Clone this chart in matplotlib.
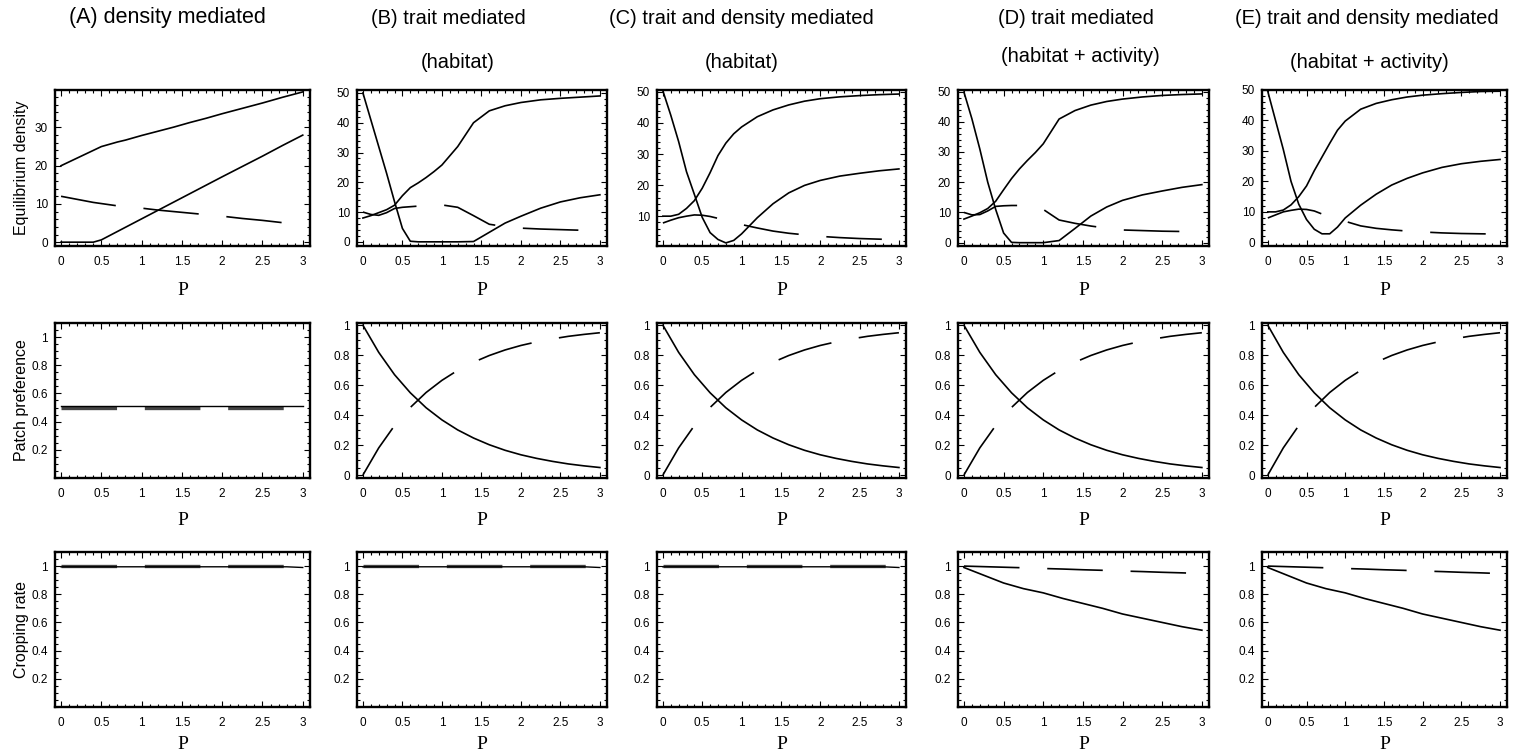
import matplotlib
matplotlib.use("Agg")
import matplotlib.pyplot as plt
from matplotlib.ticker import MultipleLocator

plt.rcParams['font.family'] = ['Liberation Sans', 'DejaVu Sans']
plt.rcParams['lines.scale_dashes'] = False

# ---- data ----
p1 = [0, 0.1, 0.2, 0.3, 0.4, 0.5, 0.6, 0.7, 0.8, 0.9, 1.0, 1.2, 1.4, 1.6, 1.8, 2.0, 2.25, 2.5, 2.75, 3.0]

# top row: equilibrium densities
a_upper = [20, 21, 22, 23, 24, 25, 25.6, 26.2, 26.7, 27.3, 27.9, 29.0, 30.1, 31.3, 32.4, 33.6, 35.0, 36.4, 37.9, 39.3]
a_lower = [0, 0, 0, 0, 0, 0.6, 1.7, 2.8, 3.9, 5.0, 6.1, 8.3, 10.5, 12.7, 14.9, 17.1, 19.8, 22.5, 25.3, 28.0]
a_dash = [12, 11.6, 11.2, 10.8, 10.4, 10.1, 9.8, 9.5, 9.3, 9.1, 8.9, 8.4, 8.0, 7.6, 7.2, 6.8, 6.2, 5.7, 5.1, 4.6]

b_drop = [50, 41, 32, 23, 13.5, 4.5, 0.2, 0, 0, 0, 0, 0, 0.1, 3.2, 6.3, 8.6, 11.3, 13.4, 14.8, 15.8]
b_rise = [8, 8.8, 9.8, 10.8, 12.3, 15.5, 18.2, 19.8, 21.6, 23.6, 25.8, 32.0, 40.0, 44.0, 45.7, 46.8, 47.7, 48.2, 48.6, 49.0]
b_dash = [10, 9.2, 8.9, 9.8, 11.2, 11.6, 11.8, 12.0, 12.2, 12.3, 12.4, 11.6, 8.8, 5.9, 5.1, 4.6, 4.3, 4.1, 3.9, 3.8]

c_drop = [50.3, 42.5, 34, 24.3, 17, 9.6, 4.7, 2.5, 1.4, 2.2, 4.3, 9.5, 14, 17.5, 19.9, 21.5, 22.9, 23.8, 24.6, 25.2]
c_rise = [10, 10, 10.6, 12.5, 15, 19, 24, 29.5, 33.5, 36.5, 38.7, 42, 44.2, 45.8, 47, 47.8, 48.4, 48.8, 49.1, 49.3]
c_dash = [7.8, 8.7, 9.5, 10, 10.4, 10.3, 9.9, 9.3, 8.6, 7.9, 7.3, 6.2, 5.2, 4.5, 4.0, 3.5, 3.1, 2.8, 2.6, 2.4]

d_drop = [49.8, 41, 31, 20, 11, 3.2, 0.1, 0, 0, 0, 0, 0.7, 4.7, 8.8, 11.8, 14, 15.8, 17.1, 18.3, 19.2]
d_rise = [7.8, 8.8, 9.9, 11.3, 13.7, 17.5, 21.2, 24.4, 27.2, 29.8, 32.7, 40.9, 43.7, 45.5, 46.7, 47.5, 48.2, 48.7, 49.0, 49.2]
d_dash = [10, 9.2, 9.3, 10.5, 12, 12.2, 12.3, 12.3, 12.1, 11.7, 11, 7.5, 6.4, 5.5, 4.8, 4.2, 4.0, 3.8, 3.7, 3.6]

e_drop = [49.5, 40, 30.5, 20, 12.5, 7.5, 4.3, 2.8, 2.8, 5.0, 8.0, 12.2, 15.8, 18.8, 21, 22.8, 24.6, 25.8, 26.6, 27.2]
e_rise = [10, 10, 10.6, 12.3, 15, 18.5, 23.5, 28, 32.5, 36.8, 39.8, 43.7, 45.6, 46.8, 47.7, 48.3, 48.8, 49.2, 49.5, 49.6]
e_dash = [8, 9, 10, 10.5, 10.9, 10.8, 10.3, 9.3, 8.4, 7.6, 6.9, 5.4, 4.6, 4.1, 3.7, 3.4, 3.1, 2.9, 2.8, 2.7]

# middle row: patch preference
p2 = [0, 0.2, 0.4, 0.6, 0.8, 1.0, 1.2, 1.4, 1.6, 1.8, 2.0, 2.2, 2.4, 2.6, 2.8, 3.0]
pref_solid = [1, 0.819, 0.670, 0.549, 0.449, 0.368, 0.301, 0.247, 0.202, 0.165, 0.135, 0.111, 0.091, 0.074, 0.061, 0.050]
pref_dash = [0, 0.181, 0.330, 0.451, 0.551, 0.632, 0.699, 0.753, 0.798, 0.835, 0.865, 0.889, 0.909, 0.926, 0.939, 0.950]
pref_a_solid = [0.51, 0.51]
pref_a_dash = [0.50, 0.50]

# bottom row: cropping rate
p3 = [0, 0.25, 0.5, 0.75, 1.0, 1.25, 1.5, 1.75, 2.0, 2.25, 2.5, 2.75, 3.0]
crop_flat_solid = [0.995, 0.995, 0.99]
crop_flat_dash = [1.0, 1.0]
crop_solid = [0.99, 0.935, 0.88, 0.84, 0.81, 0.77, 0.735, 0.70, 0.66, 0.63, 0.60, 0.57, 0.545]
crop_dash = [1.0, 0.996, 0.992, 0.988, 0.983, 0.979, 0.974, 0.970, 0.965, 0.961, 0.956, 0.952, 0.947]

titles1 = ["(A) density mediated", "(B) trait mediated", "(C) trait and density mediated",
           "(D) trait mediated", "(E) trait and density mediated"]
titles2 = ["", "(habitat)", "(habitat)", "(habitat + activity)", "(habitat + activity)"]
ylabels = ["Equilibrium density", "Patch preference", "Cropping rate"]

W, H = 1518, 752
fig = plt.figure(figsize=(W / 100, H / 100), dpi=100)

cols = [(55, 310), (357, 607), (657, 906), (958, 1209), (1262, 1507)]
rows = [(90, 246), (323, 478), (552, 707)]
xlabel_pads = [10, 8.5, 5.5]

xt = [0, 0.5, 1, 1.5, 2, 2.5, 3]
xtl = ["0", "0.5", "1", "1.5", "2", "2.5", "3"]
tick_font = dict(family='Liberation Sans', size=8.5)
DASH = (0, (40, 20))


def make_ax(c, r):
    l, rr = cols[c]
    t, b = rows[r]
    return fig.add_axes([l / W, 1 - b / H, (rr - l) / W, (b - t) / H])


def style(ax, r, ylim, yticks, ylabels_, yminor):
    ax.set_xlim(-0.075, 3.09)
    ax.set_ylim(*ylim)
    ax.set_xticks(xt)
    ax.set_xticklabels(xtl, fontdict=tick_font)
    ax.set_yticks(yticks)
    ax.set_yticklabels(ylabels_, fontdict=tick_font)
    ax.xaxis.set_minor_locator(MultipleLocator(0.1))
    ax.yaxis.set_minor_locator(MultipleLocator(yminor))
    ax.tick_params(which='both', direction='in', top=True, right=True, width=0.8)
    ax.tick_params(which='major', length=4)
    ax.tick_params(axis='x', which='major', pad=7)
    ax.tick_params(axis='y', which='major', pad=5)
    ax.tick_params(which='minor', length=2)
    for s in ax.spines.values():
        s.set_linewidth(1.7)
    ax.set_xlabel('P', fontfamily='Liberation Serif', fontsize=14, labelpad=xlabel_pads[r])


lw = 1.2
top_data = [(a_upper, a_lower, a_dash), (b_drop, b_rise, b_dash), (c_drop, c_rise, c_dash),
            (d_drop, d_rise, d_dash), (e_drop, e_rise, e_dash)]
top_ylims = [(-1.0, 39.8), (-1.4, 51.0), (0.4, 50.6), (-1.1, 50.5), (-1.2, 50.0)]

for c in range(5):
    # top row
    ax = make_ax(c, 0)
    s1, s2, dsh = top_data[c]
    ax.plot(p1, s1, color='black', lw=lw)
    ax.plot(p1, s2, color='black', lw=lw)
    ax.plot(p1, dsh, color='black', lw=lw, linestyle=DASH)
    if c == 0:
        yt = [0, 10, 20, 30]
    elif c == 2:
        yt = [10, 20, 30, 40, 50]
    else:
        yt = [0, 10, 20, 30, 40, 50]
    style(ax, 0, top_ylims[c], yt, [str(v) for v in yt], 2)

    # middle row
    ax = make_ax(c, 1)
    if c == 0:
        ax.plot([0, 3], pref_a_dash, color='#444444', lw=2.4, linestyle=DASH)
        ax.plot([0, 3], pref_a_solid, color='black', lw=1.0)
        yt = [0.2, 0.4, 0.6, 0.8, 1]
        style(ax, 1, (0, 1.1), yt, ["0.2", "0.4", "0.6", "0.8", "1"], 0.05)
    else:
        ax.plot(p2, pref_solid, color='black', lw=lw)
        ax.plot(p2, pref_dash, color='black', lw=lw, linestyle=DASH)
        yt = [0, 0.2, 0.4, 0.6, 0.8, 1]
        style(ax, 1, (-0.02, 1.015), yt, ["0", "0.2", "0.4", "0.6", "0.8", "1"], 0.05)

    # bottom row
    ax = make_ax(c, 2)
    if c < 3:
        ax.plot([0, 3], crop_flat_dash, color='#444444', lw=2.4, linestyle=DASH)
        ax.plot([0, 2.8, 3], crop_flat_solid, color='black', lw=1.0)
    else:
        ax.plot(p3, crop_solid, color='black', lw=lw)
        ax.plot(p3, crop_dash, color='black', lw=lw, linestyle=DASH)
    yt = [0.2, 0.4, 0.6, 0.8, 1]
    style(ax, 2, (0, 1.1), yt, ["0.2", "0.4", "0.6", "0.8", "1"], 0.05)

# column titles
narrow = ['Liberation Sans Narrow', 'Liberation Sans', 'DejaVu Sans']
fig.text(167 / W, 1 - 18 / H, titles1[0], ha='center', va='center', fontsize=15.5)
t1_x = [None, 448, 741, 1076, 1367]
t2_pos = [None, (458, 62), (742, 62), (1080, 57), (1369, 62)]
for c in range(1, 5):
    fig.text(t1_x[c] / W, 1 - 18 / H, titles1[c], ha='center', va='center',
             fontsize=14.5, family=narrow)
    x2, y2 = t2_pos[c]
    fig.text(x2 / W, 1 - y2 / H, titles2[c], ha='center', va='center',
             fontsize=14.5, family=narrow)

# row labels
for r in range(3):
    t, b = rows[r]
    fig.text(22 / W, 1 - (t + b) / 2 / H, ylabels[r], rotation=90,
             ha='center', va='center', fontsize=11.5)

fig.savefig("out.png", dpi=100)
